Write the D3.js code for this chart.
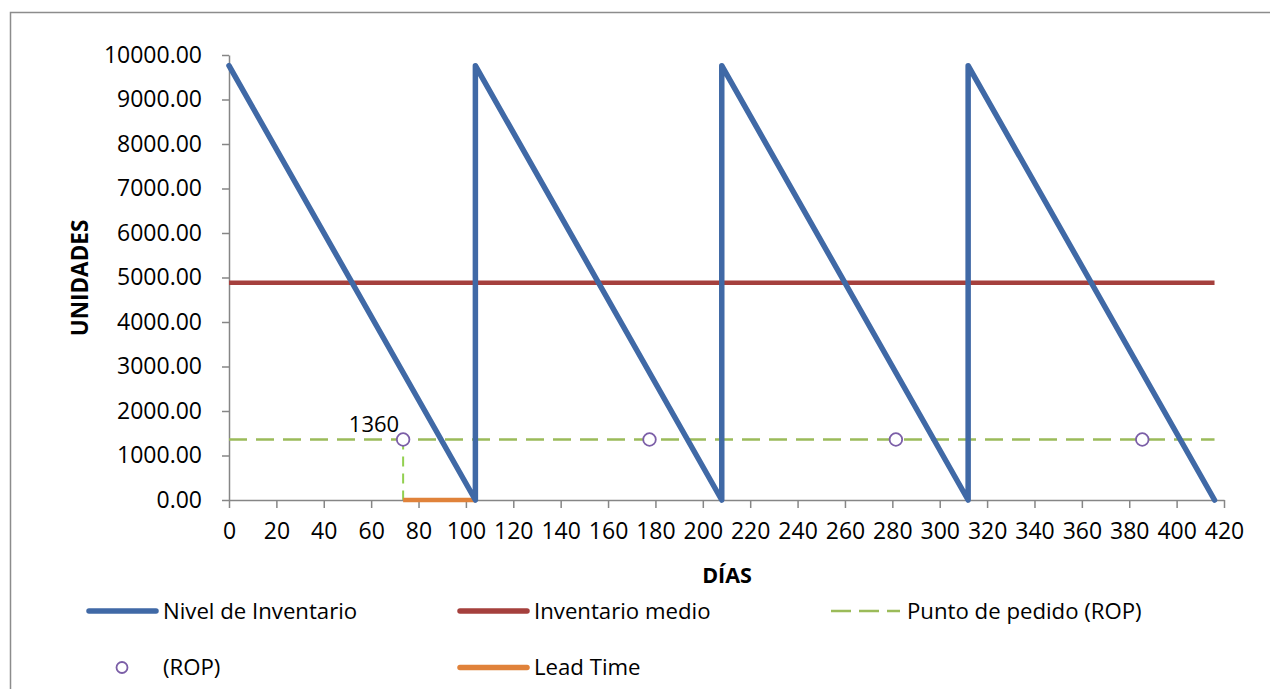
<!DOCTYPE html>
<html><head><meta charset="utf-8">
<script src="https://cdn.jsdelivr.net/npm/d3@7"></script>
<style>
body{margin:0;background:#fff;}
svg text{font-family:"Open Sans",sans-serif;fill:#000;}
</style></head>
<body><svg id="c" width="1270" height="689"></svg>
<script>
// Data
const invDays   = [0, 104, 104, 208, 208, 312, 312, 416];
const invLevel  = [9760, 0, 9760, 0, 9760, 0, 9760, 0];
const avgDays   = [0, 416];
const avgLevel  = [4880, 4880];
const ropDays   = [0, 416];
const ropLevel  = [1360, 1360];
const ropMarkDays  = [73.5, 177.5, 281.5, 385.5];
const ropMarkLevel = [1360, 1360, 1360, 1360];
const leadDays  = [73.5, 104];
const leadLevel = [0, 0];
const ropLabel  = "1360";
const xTicks = d3.range(0, 421, 20);
const yTicks = d3.range(0, 10001, 1000);
const legendNames = ["Nivel de Inventario","Inventario medio","Punto de pedido (ROP)","(ROP)","Lead Time"];

const svg = d3.select("#c");
const W = 1270, H = 689;
const m = {left:229, right:1224, top:55, bottom:500};
const x = d3.scaleLinear().domain([0,420]).range([m.left, m.right]);
const y = d3.scaleLinear().domain([0,10000]).range([m.bottom, m.top]);

// outer border
svg.append("rect").attr("x",10.5).attr("y",12.5).attr("width",W+20).attr("height",H+20)
  .attr("fill","none").attr("stroke","#8c8c8c").attr("stroke-width",1.5);

const axisColor = "#868686";
const fs = 23;
// Y axis
const yAx = svg.append("g").attr("transform",`translate(${m.left},0)`)
  .call(d3.axisLeft(y).tickValues(yTicks).tickSize(7).tickSizeOuter(0).tickPadding(20).tickFormat(d=>d.toFixed(2)));
// X axis
const xAx = svg.append("g").attr("transform",`translate(0,${m.bottom})`)
  .call(d3.axisBottom(x).tickValues(xTicks).tickSize(8).tickSizeOuter(0).tickPadding(17));
[yAx,xAx].forEach(g=>{
  g.select(".domain").attr("stroke",axisColor).attr("stroke-width",1.5);
  g.selectAll(".tick line").attr("stroke",axisColor).attr("stroke-width",1.5);
  g.selectAll("text").attr("font-size",fs).attr("font-family","Open Sans").attr("fill","#000");
});
xAx.selectAll(".tick text").attr("dy","0.62em");

// axis titles
svg.append("text").attr("transform",`translate(88,278) rotate(-90)`).attr("text-anchor","middle")
  .attr("font-size",22.5).attr("font-weight","bold").text("UNIDADES");
svg.append("text").attr("x",727).attr("y",583).attr("text-anchor","middle")
  .attr("font-size",21.5).attr("font-weight","bold").text("DÍAS");

const line = d3.line().x(d=>x(d[0])).y(d=>y(d[1]));
const zip = (a,b)=>a.map((v,i)=>[v,b[i]]);

// ROP dashed line
svg.append("path").attr("d",line(zip(ropDays,ropLevel))).attr("fill","none")
  .attr("stroke","#9bbb59").attr("stroke-width",2.5).attr("stroke-dasharray","18,9");
// vertical lead dashed
svg.append("path").attr("d",line([[leadDays[0],ropLevel[0]],[leadDays[0],0]])).attr("fill","none")
  .attr("stroke","#92d050").attr("stroke-width",2).attr("stroke-dasharray","10,7");
// Average
svg.append("path").attr("d",line(zip(avgDays,avgLevel))).attr("fill","none")
  .attr("stroke","#a5403d").attr("stroke-width",4.5);
// Lead time
svg.append("path").attr("d",line(zip(leadDays,leadLevel))).attr("fill","none")
  .attr("stroke","#e0823a").attr("stroke-width",4.5);
// Inventory
svg.append("path").attr("d",line(zip(invDays,invLevel))).attr("fill","none")
  .attr("stroke","#4069a6").attr("stroke-width",5.5).attr("stroke-linejoin","round").attr("stroke-linecap","round");
// ROP markers
svg.selectAll(".mk").data(zip(ropMarkDays,ropMarkLevel)).enter().append("circle")
  .attr("cx",d=>x(d[0])).attr("cy",d=>y(d[1])).attr("r",6.3)
  .attr("fill","#fff").attr("stroke","#7b5ea7").attr("stroke-width",1.8);
// label
svg.append("text").attr("x",x(ropMarkDays[0])-4).attr("y",y(ropMarkLevel[0])-7).attr("text-anchor","end")
  .attr("font-size",22).text(ropLabel);

// Legend
const lg = svg.append("g");
const r1 = 611, r2 = 667.5;
const lfs = 22.2;
function legText(x0,yy,label){
  lg.append("text").attr("x",x0).attr("y",yy+7.8).attr("font-size",lfs).text(label);
}
function lineItem(x0,x1,yy,color,w,dash,label){
  lg.append("line").attr("x1",x0).attr("x2",x1).attr("y1",yy).attr("y2",yy)
    .attr("stroke",color).attr("stroke-width",w).attr("stroke-dasharray",dash||null).attr("stroke-linecap",dash?"butt":"round");
  legText(x1+7,yy,label);
}
lineItem(89,156,r1,"#4069a6",5.5,null,legendNames[0]);
lineItem(460,527,r1,"#a5403d",5.5,null,legendNames[1]);
lineItem(831,900,r1,"#9bbb59",2.5,"20,8",legendNames[2]);
lg.append("circle").attr("cx",122).attr("cy",r2).attr("r",5.5).attr("fill","#fff").attr("stroke","#7b5ea7").attr("stroke-width",1.8);
legText(163,r2,legendNames[3]);
lineItem(460,527,r2,"#e0823a",5.5,null,legendNames[4]);
</script></body></html>
